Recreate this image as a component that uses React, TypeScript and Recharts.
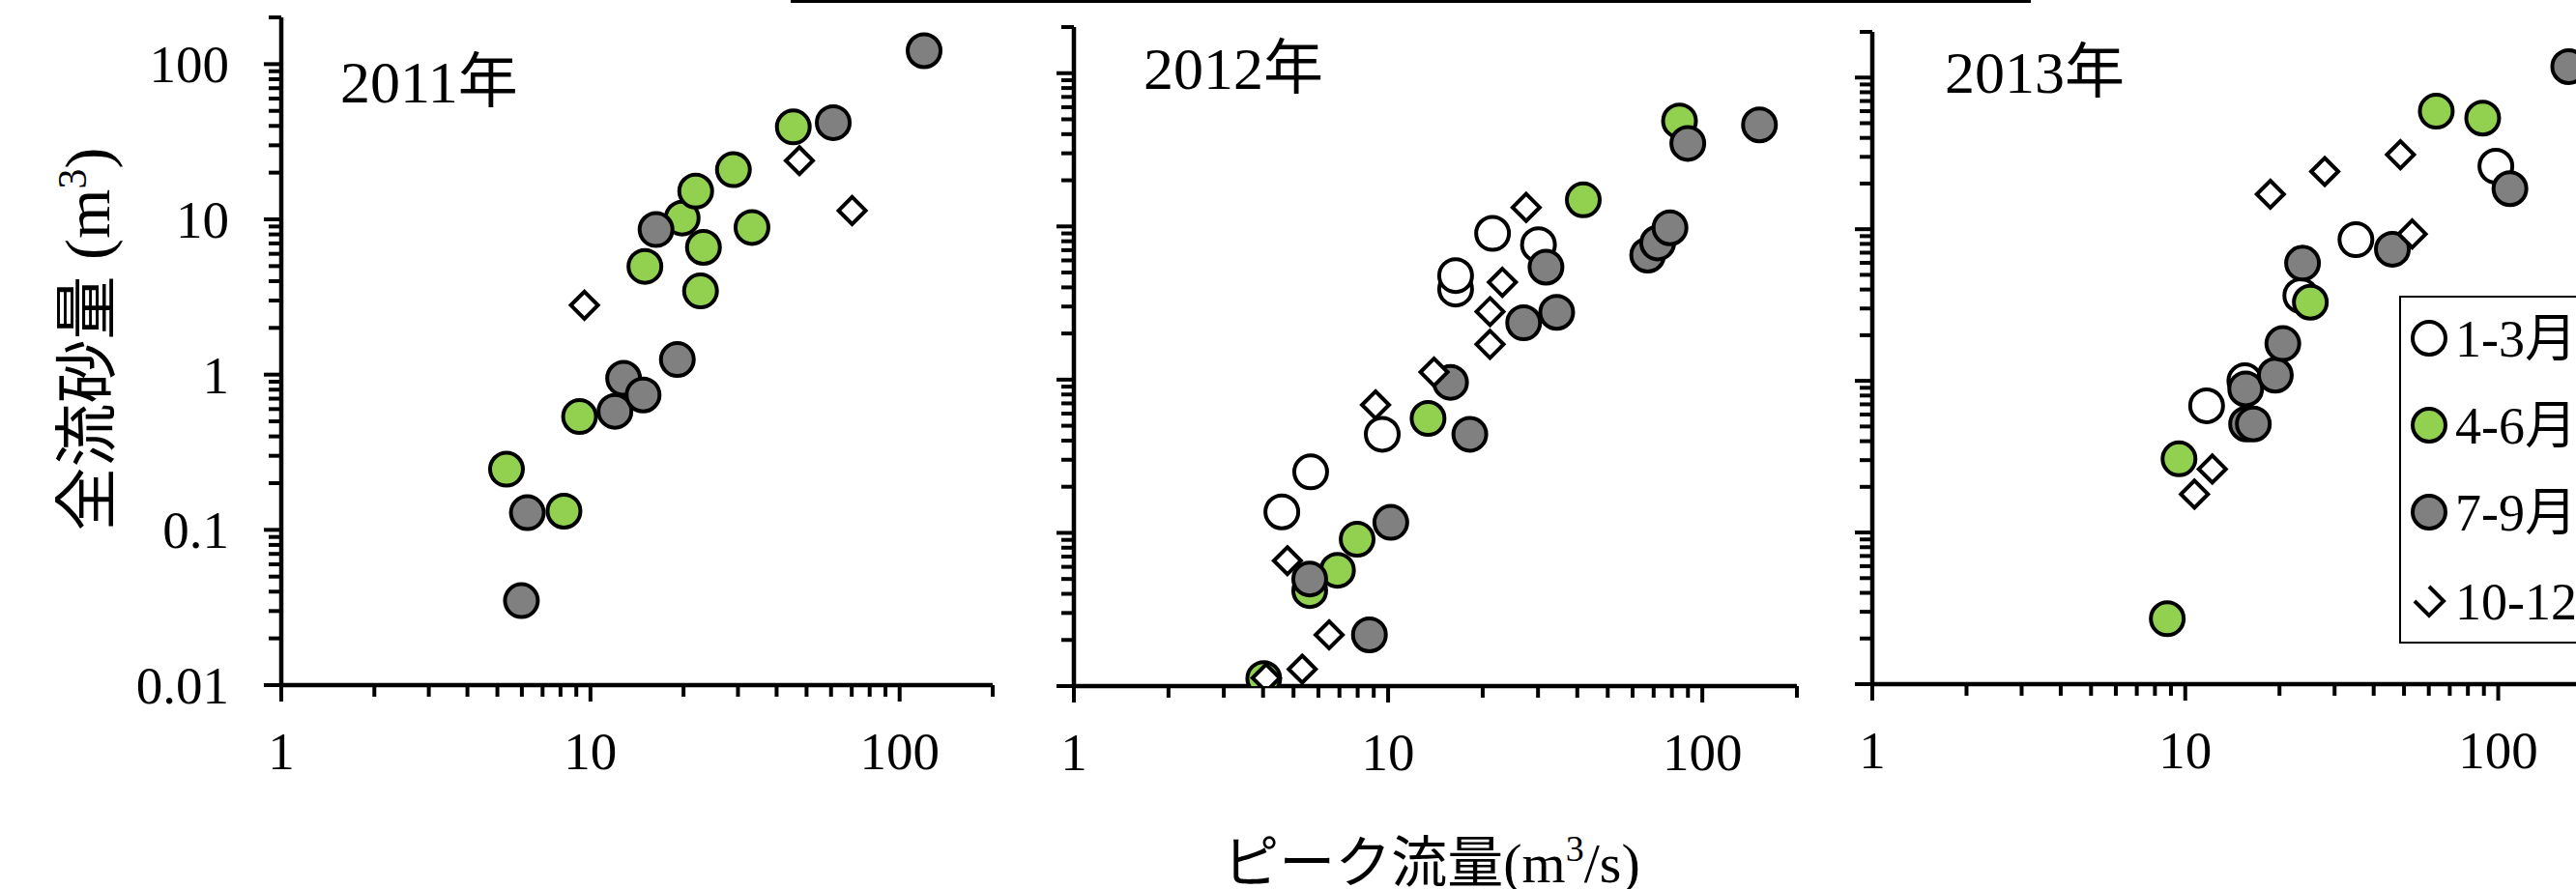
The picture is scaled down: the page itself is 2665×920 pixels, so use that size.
import { Scatter, ScatterChart, XAxis, YAxis } from "recharts";

const serif = "'Liberation Serif', 'Times New Roman', 'Noto Sans CJK JP', serif";

// [peak flow m3/s, total sediment m3]
const y2011Jan: number[][] = [];
const y2011Apr = [
  [5.35, 0.246], [8.21, 0.132], [9.22, 0.537], [15.0, 4.98], [19.8, 10.2], [21.9, 15.2],
  [22.7, 3.46], [23.2, 6.6], [29.0, 20.9], [33.3, 8.87], [45.3, 39.4],
];
const y2011Jul = [
  [5.98, 0.035], [6.25, 0.129], [12.0, 0.58], [12.8, 0.946], [14.8, 0.74], [16.3, 8.6],
  [19.1, 1.25], [61, 42], [120, 122],
];
const y2011Oct = [[9.56, 2.8], [47.4, 23.9], [70.2, 11.4]];

const y2012Jan = [
  [4.59, 0.137], [5.67, 0.25], [9.58, 0.44], [16.4, 3.9], [16.4, 4.78], [21.5, 9.0], [30.1, 7.6],
];
const y2012Apr = [
  [4.02, 0.0112], [5.63, 0.042], [6.9, 0.057], [7.97, 0.0908], [13.4, 0.558], [41.8, 14.9], [84.6, 48.8],
];
const y2012Jul = [
  [5.63, 0.05], [8.72, 0.0216], [10.2, 0.117], [15.8, 0.96], [18.2, 0.44], [27.0, 2.35],
  [31.8, 5.42], [34.4, 2.75], [67, 6.5], [72.1, 7.8], [78.9, 9.8], [89.9, 34.8], [152, 46],
];
const y2012Oct = [
  [4.09, 0.0113], [5.33, 0.0129], [6.49, 0.0216], [4.78, 0.0658], [9.12, 0.684], [14.0, 1.12],
  [21.1, 1.7], [21.1, 2.78], [23.1, 4.32], [27.5, 13.3],
];

const y2013Jan = [[11.7, 0.685], [15.5, 1.0], [23.4, 3.65], [35.1, 8.53], [98.3, 26]];
const y2013Apr = [[8.76, 0.027], [9.55, 0.306], [25.1, 3.3], [63.4, 60], [89.2, 54]];
const y2013Jul = [
  [15.6, 0.885], [15.7, 0.52], [16.5, 0.52], [19.4, 1.09], [20.5, 1.76], [23.7, 5.97],
  [45.9, 7.38], [109, 18.5], [168, 118],
];
const y2013Oct = [[10.7, 0.179], [12.2, 0.262], [18.7, 17], [27.9, 24], [48.7, 31], [53.1, 9.3]];

const seasons = ["1-3月", "4-6月", "7-9月", "10-12月"];
const years = ["2011年", "2012年", "2013年"];

const xMajor = [1, 10, 100];
const xMajorLabels = ["1", "10", "100"];
const yMajor = [0.01, 0.1, 1, 10, 100];
const yMajorLabels = ["0.01", "0.1", "1", "10", "100"];
const steps = [1, 2, 3, 4, 5, 6, 7, 8, 9];

const xTicks = [...[1, 10].flatMap((d) => steps.map((m) => +(d * m).toPrecision(3))), 100, 200];
const yTicks = [
  ...[0.01, 0.1, 1, 10].flatMap((d) => steps.map((m) => +(d * m).toPrecision(3))),
  100,
  200,
];

const W = 2720;
const H = 920;

const majorIndex = (v: number, list: number[]) => list.findIndex((m) => Math.abs(v / m - 1) < 1e-6);

function XTick(props: any) {
  const { x, y, payload } = props;
  const i = majorIndex(payload.value, xMajor);
  const len = i >= 0 ? 17 : 12;
  return (
    <g>
      <line x1={x} y1={y} x2={x} y2={y + len} stroke="#000" strokeWidth={4} />
      {i >= 0 && (
        <text x={x} y={y + 87} textAnchor="middle" fontFamily={serif} fontSize={55} fill="#000">
          {xMajorLabels[i]}
        </text>
      )}
    </g>
  );
}

function YTick(props: any) {
  const { x, y, payload, showLabel } = props;
  const i = majorIndex(payload.value, yMajor);
  const len = i >= 0 ? 18 : 13;
  return (
    <g>
      <line x1={x} y1={y} x2={x - len} y2={y} stroke="#000" strokeWidth={4} />
      {showLabel && i >= 0 && (
        <text x={x - 54} y={y + 19} textAnchor="end" fontFamily={serif} fontSize={55} fill="#000">
          {yMajorLabels[i]}
        </text>
      )}
    </g>
  );
}

const circle = (fill: string) => (p: any) => (
  <circle cx={p.cx} cy={p.cy} r={17} fill={fill} stroke="#000" strokeWidth={4} />
);

const diamond = (p: any) => {
  const h = 14;
  return (
    <path
      d={`M${p.cx},${p.cy - h}L${p.cx + h},${p.cy}L${p.cx},${p.cy + h}L${p.cx - h},${p.cy}Z`}
      fill="#fff"
      stroke="#000"
      strokeWidth={4}
    />
  );
};

const toPts = (arr: number[][]) => arr.map(([x, y]) => ({ x, y }));

interface PanelProps {
  left: number;
  top: number;
  right: number;
  bottom: number;
  data: number[][][];
  yLabels?: boolean;
}

// axis x / y positions are given in page pixels; the axes get 1px of room each
function Panel({ left, top, right, bottom, data, yLabels }: PanelProps) {
  return (
    <div style={{ position: "absolute", left: 0, top: 0 }}>
      <ScatterChart
        width={W}
        height={H}
        margin={{ left: left - 1, top, right: W - right, bottom: H - bottom - 1 }}
      >
        <XAxis
          type="number"
          dataKey="x"
          scale="log"
          domain={[1, 200]}
          allowDataOverflow
          ticks={xTicks}
          interval={0}
          height={1}
          tickSize={0}
          tickMargin={0}
          tickLine={false}
          axisLine={{ stroke: "#000", strokeWidth: 4.5 }}
          tick={(p: any) => <XTick {...p} />}
        />
        <YAxis
          type="number"
          dataKey="y"
          scale="log"
          domain={[0.01, 200]}
          allowDataOverflow
          ticks={yTicks}
          interval={0}
          width={1}
          tickSize={0}
          tickMargin={0}
          tickLine={false}
          axisLine={{ stroke: "#000", strokeWidth: 4.5 }}
          tick={(p: any) => <YTick {...p} showLabel={yLabels} />}
        />
        <Scatter data={toPts(data[0])} shape={circle("#fff")} isAnimationActive={false} />
        <Scatter data={toPts(data[1])} shape={circle("#92D050")} isAnimationActive={false} />
        <Scatter data={toPts(data[2])} shape={circle("#808080")} isAnimationActive={false} />
        <Scatter data={toPts(data[3])} shape={diamond} isAnimationActive={false} />
      </ScatterChart>
    </div>
  );
}

const legendRows = [350, 440, 530, 622];
const legendFills = ["#fff", "#92D050", "#808080"];

export default function App() {
  return (
    <div
      style={{
        position: "absolute",
        left: 0,
        top: 0,
        width: 2665,
        height: 920,
        overflow: "hidden",
        background: "#fff",
      }}
    >
      <Panel left={291} top={18} right={1027} bottom={709} data={[y2011Jan, y2011Apr, y2011Jul, y2011Oct]} yLabels />
      <Panel left={1111} top={28} right={1859} bottom={710} data={[y2012Jan, y2012Apr, y2012Jul, y2012Oct]} />
      <Panel left={1937} top={33} right={2682} bottom={708} data={[y2013Jan, y2013Apr, y2013Jul, y2013Oct]} />

      <svg width={2665} height={920} style={{ position: "absolute", left: 0, top: 0, pointerEvents: "none" }}>
        <rect x={818} y={0} width={1283} height={3} fill="#000" />

        <text x={352} y={106} fontFamily={serif} fontSize={62} fill="#000">{years[0]}</text>
        <text x={1183} y={92} fontFamily={serif} fontSize={62} fill="#000">{years[1]}</text>
        <text x={2012} y={96} fontFamily={serif} fontSize={62} fill="#000">{years[2]}</text>

        <text
          transform="translate(113,351) rotate(-90)"
          textAnchor="middle"
          fontFamily={serif}
          fontSize={66}
          fill="#000"
        >
          全流砂量 (m<tspan dy={-24} fontSize={42}>3</tspan>
          <tspan dy={24}>)</tspan>
        </text>

        <text x={1481} y={913} textAnchor="middle" fontFamily={serif} fontSize={58} fill="#000">
          ピーク流量(m<tspan dy={-22} fontSize={38}>3</tspan>
          <tspan dy={22}>/s)</tspan>
        </text>

        <rect x={2483} y={307} width={300} height={358} fill="#fff" stroke="#000" strokeWidth={2} />
        {legendRows.map((ry, i) => (
          <g key={seasons[i]}>
            {i < 3 ? (
              <circle cx={2513} cy={ry} r={17} fill={legendFills[i]} stroke="#000" strokeWidth={4} />
            ) : (
              <polyline
                points={`2513,${ry - 15} 2528,${ry} 2513,${ry + 15} 2498,${ry}`}
                fill="none"
                stroke="#000"
                strokeWidth={4}
              />
            )}
            <text x={2540} y={ry + 19} fontFamily={serif} fontSize={54} fill="#000">
              {seasons[i]}
            </text>
          </g>
        ))}
      </svg>
    </div>
  );
}
